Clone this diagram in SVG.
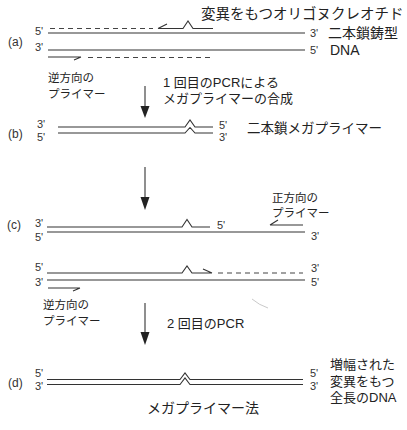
<svg xmlns="http://www.w3.org/2000/svg" width="407" height="430" viewBox="0 0 407 430">
<defs>
<style>
.s{fill:none;stroke:#333;stroke-width:1.1}
.d{fill:none;stroke:#444;stroke-width:1.1;stroke-dasharray:5 4}
.p{font-family:"Liberation Sans","Noto Sans CJK JP",sans-serif;font-size:11px;fill:#333}
.lb{font-family:"Liberation Sans","Noto Sans CJK JP",sans-serif;font-size:12px;fill:#333}
.j{font-family:"Liberation Sans","Noto Sans CJK JP",sans-serif;fill:#222}
</style>
</defs>
<rect width="407" height="430" fill="#fff"/>

<g id="panel-a">
<text class="j" x="201" y="19" font-size="14.5">変異をもつオリゴヌクレオチド</text>
<text class="lb" x="8" y="46">(a)</text>
<text class="p" x="35" y="35">5'</text>
<text class="p" x="35" y="51">3'</text>
<path class="s" d="M48,33 H305"/>
<path class="s" d="M48,50 H305"/>
<path class="d" d="M50,28.5 H153"/>
<path class="s" d="M158,28.5 H183 L188,21 L193,28.5 H213 M158,28.5 L167,24"/>
<path class="s" d="M48,57 H81 M81,57 L74,60"/>
<path class="d" d="M88,57.5 H213"/>
<text class="p" x="310" y="37">3'</text>
<text class="p" x="310" y="54">5'</text>
<text class="j" x="328" y="38" font-size="14">二本鎖鋳型</text>
<text class="j" x="330" y="55" font-size="14">DNA</text>
<text class="j" x="48" y="82" font-size="11.5">逆方向の</text>
<text class="j" x="48" y="98" font-size="11.5">プライマー</text>
<text class="j" x="163" y="87" font-size="13">1 回目のPCRによる</text>
<text class="j" x="163" y="103" font-size="13">メガプライマーの合成</text>
</g>

<g id="panel-b">
<text class="lb" x="8" y="138">(b)</text>
<text class="p" x="37" y="128">3'</text>
<text class="p" x="37" y="141">5'</text>
<path class="s" d="M58,127 H185 L190,120 L195,127 H213"/>
<path class="s" d="M58,133 H185 L190,127.5 L195,133 H213"/>
<text class="p" x="219" y="129">5'</text>
<text class="p" x="219" y="141">3'</text>
<text class="j" x="247" y="133" font-size="13.5">二本鎖メガプライマー</text>
</g>

<g id="panel-c-top">
<text class="lb" x="7" y="229">(c)</text>
<text class="p" x="35" y="227">3'</text>
<text class="p" x="35" y="241">5'</text>
<path class="s" d="M47,227 H182 L187,219.5 L192,227 H210"/>
<path class="s" d="M47,232 H305"/>
<text class="p" x="217" y="229">5'</text>
<text class="p" x="311" y="240">3'</text>
<path class="s" d="M270,225 H303 M270,225 L278,220"/>
<text class="j" x="272" y="202" font-size="11.5">正方向の</text>
<text class="j" x="272" y="217" font-size="11.5">プライマー</text>
</g>

<g id="panel-c-bottom">
<text class="p" x="35" y="271">5'</text>
<text class="p" x="35" y="286">3'</text>
<path class="s" d="M47,273 H182 L187,266 L192,273 H212 M212,273 L203,269"/>
<path class="d" d="M218,273 H303"/>
<path class="s" d="M47,280 H305"/>
<text class="p" x="311" y="272">3'</text>
<text class="p" x="311" y="286">5'</text>
<path class="s" d="M48,288 H80 M80,288 L73,291"/>
<text class="j" x="43" y="309" font-size="11.5">逆方向の</text>
<text class="j" x="43" y="325" font-size="11.5">プライマー</text>
<text class="j" x="167" y="328" font-size="13">2 回目のPCR</text>
<path d="M252,299 Q259,305 268,308" fill="none" stroke="#bbb" stroke-width="0.8"/>
</g>

<g id="panel-d">
<text class="lb" x="8" y="387">(d)</text>
<text class="p" x="35" y="377">5'</text>
<text class="p" x="35" y="390">3'</text>
<path class="s" d="M47,379.5 H180 L185,373 L190,379.5 H303"/>
<path class="s" d="M47,384.5 H180 L185,378 L190,384.5 H303"/>
<text class="p" x="310" y="377">5'</text>
<text class="p" x="310" y="390">3'</text>
<text class="j" x="330" y="369" font-size="13">増幅された</text>
<text class="j" x="330" y="386" font-size="13">変異をもつ</text>
<text class="j" x="330" y="402" font-size="13">全長のDNA</text>
<text class="j" x="147" y="413" font-size="14" fill="#444">メガプライマー法</text>
</g>

<g id="connectors">
<path class="s" d="M145,86 V108"/>
<polygon points="140.5,106 149.5,106 145,118" fill="#222"/>
<path class="s" d="M145,167 V199"/>
<polygon points="140.5,197 149.5,197 145,210" fill="#222"/>
<path class="s" d="M145,303 V334"/>
<polygon points="140.5,332 149.5,332 145,345" fill="#222"/>
</g>
</svg>
